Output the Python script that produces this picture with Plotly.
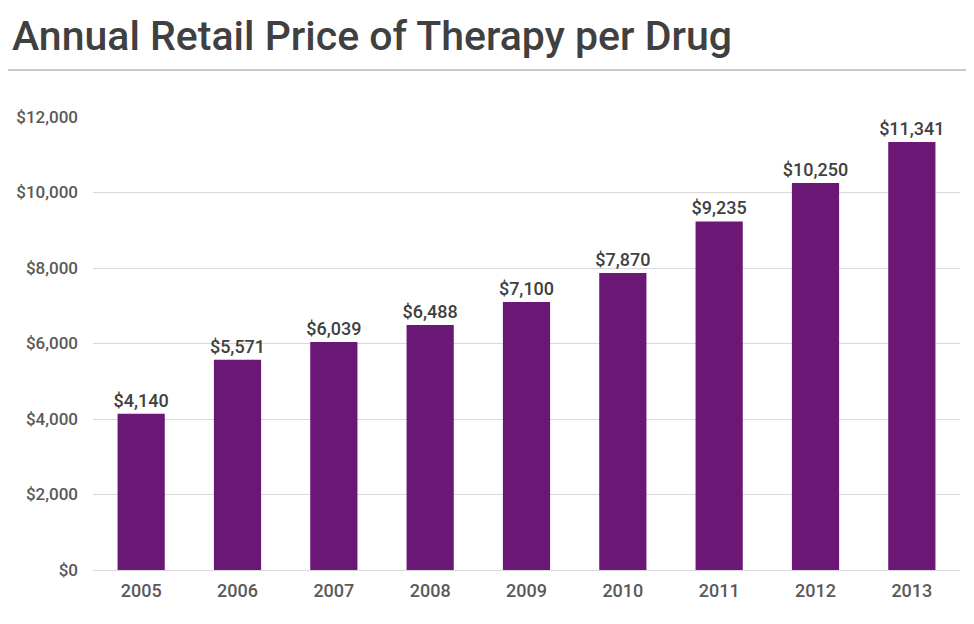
import plotly.graph_objects as go

# -----------------------
# Data
# -----------------------
years = ["2005", "2006", "2007", "2008", "2009", "2010", "2011", "2012", "2013"]
price = [4140, 5571, 6039, 6488, 7100, 7870, 9235, 10250, 11341]
y_ticks = [0, 2000, 4000, 6000, 8000, 10000, 12000]

BAR_COLOR = "#6a1775"
FONT = "Roboto"

# the html page puts the figure 8px in from the top-left corner (body margin),
# so margins below are shifted to land the plot area where the reference has it
fig = go.Figure(go.Bar(
    x=years,
    y=price,
    marker=dict(color=BAR_COLOR, line=dict(width=0)),
    width=0.49,
    text=[f"${v:,}" for v in price],
    textposition="outside",
    constraintext="none",
    textfont=dict(family=FONT, size=18, color="#404040", weight=500),
    cliponaxis=False,
))

fig.update_layout(
    width=974, height=624,
    margin=dict(l=85, r=22, t=109, b=62),
    paper_bgcolor="white", plot_bgcolor="white",
    showlegend=False,
    font=dict(family=FONT, color="#595959"),
    title=dict(
        text="Annual Retail Price of Therapy per Drug",
        x=4 / 974, xanchor="left", xref="container",
        y=0.978, yanchor="top",
        font=dict(family=FONT, size=41, color="#404040", weight=500),
    ),
    xaxis=dict(
        showline=False, showgrid=False, ticks="", automargin=False,
        tickfont=dict(size=18, color="#595959", weight=500),
        ticklabelstandoff=8,
    ),
    yaxis=dict(
        range=[0, 12000], tickvals=y_ticks, automargin=False,
        ticktext=[f"${v:,}" for v in y_ticks],
        showgrid=True, gridcolor="#d9d9d9", gridwidth=1,
        zeroline=True, zerolinecolor="#d9d9d9", zerolinewidth=1,
        showline=False, ticks="",
        tickfont=dict(size=17, color="#595959", weight=500),
        ticklabelstandoff=14,
    ),
    # thin rule under the title, running across the whole page
    shapes=[dict(
        type="line", xref="paper", yref="paper",
        x0=-93 / 867, x1=1 + 30 / 867,
        y0=1 + 47 / 453, y1=1 + 47 / 453,
        line=dict(color="#c5ccc0", width=2),
    )],
)

fig.write_html("out.html")
